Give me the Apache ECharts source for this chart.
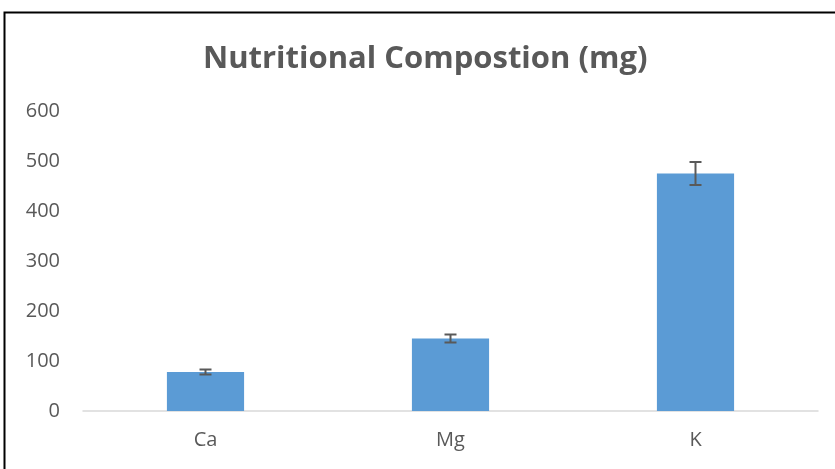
<!DOCTYPE html>
<html>
<head>
<meta charset="utf-8">
<script src="https://cdn.jsdelivr.net/npm/echarts@6/dist/echarts.min.js"></script>
<style>
html,body{margin:0;padding:0;background:#fff;}
#chart{width:835px;height:469px;}
</style>
</head>
<body>
<div id="chart"></div>
<script>
const categories = ['Ca', 'Mg', 'K'];
const values = [78, 145, 475];
const errors = [5, 8, 23];
const yTicks = [0, 100, 200, 300, 400, 500, 600];

const chart = echarts.init(document.getElementById('chart'), null, {renderer: 'canvas'});
const font = '"Open Sans", "Noto Sans", sans-serif';

chart.setOption({
  animation: false,
  backgroundColor: '#ffffff',
  title: {
    text: 'Nutritional Compostion (mg)',
    left: 198,
    top: 39,
    textStyle: {fontFamily: font, fontSize: 31, fontWeight: 'bold', color: '#595959'}
  },
  graphic: [{
    type: 'rect',
    shape: {x: 4.5, y: 12.5, width: 900, height: 600},
    style: {fill: null, stroke: '#000', lineWidth: 2},
    silent: true
  }],
  grid: {left: 83, right: 17, top: 111, bottom: 58, containLabel: false},
  xAxis: {
    type: 'category',
    data: categories,
    axisLine: {lineStyle: {color: '#d9d9d9', width: 1.5}},
    axisTick: {show: false},
    axisLabel: {fontFamily: font, fontSize: 20, color: '#595959', margin: 19}
  },
  yAxis: {
    type: 'value',
    min: yTicks[0],
    max: yTicks[yTicks.length - 1],
    interval: 100,
    splitLine: {show: false},
    axisLine: {show: false},
    axisTick: {show: false},
    axisLabel: {fontFamily: font, fontSize: 20, color: '#595959', margin: 23}
  },
  series: [{
    type: 'bar',
    data: values,
    barWidth: '31.5%',
    itemStyle: {color: '#5b9bd5'}
  }, {
    type: 'custom',
    data: values.map((v, i) => [i, v - errors[i], v + errors[i]]),
    renderItem: function (params, api) {
      const x = api.value(0);
      const lo = api.coord([x, api.value(1)]);
      const hi = api.coord([x, api.value(2)]);
      const hw = 6;
      const st = {stroke: '#595959', lineWidth: 2};
      return {
        type: 'group',
        children: [
          {type: 'line', shape: {x1: lo[0], y1: lo[1], x2: hi[0], y2: hi[1]}, style: st},
          {type: 'line', shape: {x1: lo[0] - hw, y1: lo[1], x2: lo[0] + hw, y2: lo[1]}, style: st},
          {type: 'line', shape: {x1: hi[0] - hw, y1: hi[1], x2: hi[0] + hw, y2: hi[1]}, style: st}
        ]
      };
    },
    z: 10
  }]
});
</script>
</body>
</html>
